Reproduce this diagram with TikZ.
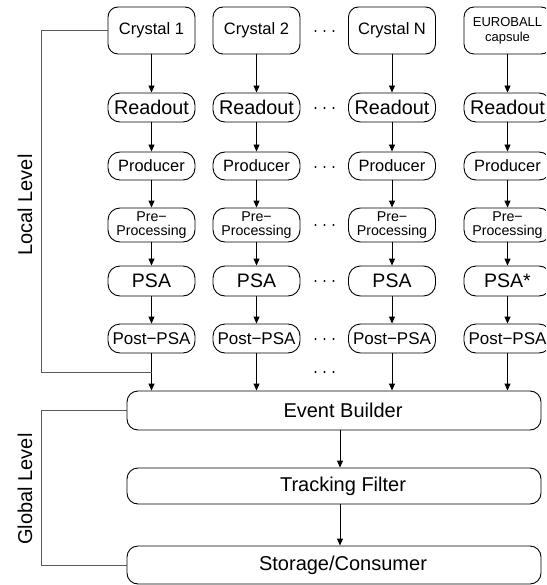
\documentclass[tikz,border=0pt]{standalone}
\usepackage{fontspec}
\setmainfont{Liberation Sans}
\usetikzlibrary{arrows.meta}
\definecolor{bgray}{RGB}{90,90,90}
\begin{document}
\begin{tikzpicture}[x=1pt,y=-1pt,
  box/.style={draw, line width=0.9pt, inner sep=0pt, minimum width=87pt, rounded corners=12pt, align=center},
  crys/.style={box, minimum height=47pt, rounded corners=10pt, font=\fontsize{16.5}{16.5}\selectfont},
  crysE/.style={box, minimum height=47pt, rounded corners=10pt, font=\fontsize{13}{15}\selectfont},
  rdo/.style={box, minimum height=29pt, font=\fontsize{19.8}{19.8}\selectfont},
  prod/.style={box, minimum height=28pt, font=\fontsize{16.4}{16.4}\selectfont},
  prep/.style={box, minimum height=34pt, font=\fontsize{14.2}{14}\selectfont},
  psa/.style={box, minimum height=30pt, font=\fontsize{19.5}{19.5}\selectfont},
  post/.style={box, minimum height=29pt, font=\fontsize{17}{17}\selectfont},
  wide/.style={draw, line width=0.9pt, inner sep=0pt, minimum width=414pt, rounded corners=11pt, font=\fontsize{20}{20}\selectfont},
  arr/.style={line width=0.9pt, -{Triangle[length=7pt,width=6pt]}},
  bracket/.style={line width=1pt, draw=bgray},
  lvl/.style={rotate=90, inner sep=0pt, font=\fontsize{20}{20}\selectfont},
  hdots/.pic={\foreach \dx in {-9,0,9} \fill (\dx,0) circle (1.1pt);}
]
\useasboundingbox (0,0) rectangle (546,585);
\clip (0,0) rectangle (546,585);

% columns
\foreach \n/\x/\ct in {1/151.5/{Crystal 1}, 2/256.5/{Crystal 2}, N/392/{Crystal N}} {
  \node[crys] (cr\n) at (\x,30.5) {\ct};
  \node[rdo]  (ro\n) at (\x,107.5) {Readout};
  \node[prod] (pr\n) at (\x,166) {Producer};
  \node[prep] (pp\n) at (\x,225) {Pre−\\Processing};
  \node[psa]  (ps\n) at (\x,281) {PSA};
  \node[post] (po\n) at (\x,338.5) {Post−PSA};
}
\node[crysE] (crE) at (507.5,30.5) {EUROBALL\\capsule};
\node[rdo]  (roE) at (507.5,107.5) {Readout};
\node[prod] (prE) at (507.5,166) {Producer};
\node[prep] (ppE) at (507.5,225) {Pre−\\Processing};
\node[psa]  (psE) at (507.5,281) {PSA*};
\node[post] (poE) at (507.5,338.5) {Post−PSA};

% global boxes
\node[wide, minimum height=39pt] (eb) at (334,410.5) {\hspace*{18pt}Event Builder};
\node[wide, minimum height=36pt] (tf) at (334,486) {\hspace*{18pt}Tracking Filter};
\node[wide, minimum height=38pt] (sc) at (334,565) {\hspace*{18pt}Storage/Consumer};

% arrows in columns
\foreach \n in {1,2,N,E} {
  \draw[arr] (cr\n) -- (ro\n);
  \draw[arr] (ro\n) -- (pr\n);
  \draw[arr] (pr\n) -- (pp\n);
  \draw[arr] (pp\n) -- (ps\n);
  \draw[arr] (ps\n) -- (po\n);
  \draw[arr] (po\n) -- (po\n |- eb.north);
}
\coordinate (ax) at (340,0);
\draw[arr] (eb.south -| ax) -- (tf.north -| ax);
\draw[arr] (tf.south -| ax) -- (sc.north -| ax);

% dots
\foreach \y in {31,108,167,225,281,339,372} \pic at (324.5,\y) {hdots};

% brackets
\coordinate (lx) at (41,0);
\coordinate (lj) at (151.5,372);
\draw[bracket] (cr1.west) -| (lx |- lj) -- (lj);
\draw[bracket] (eb.west) -| (lx |- sc.west) -- (sc.west);

\node[lvl] (ll) at (25,205) {Local Level};
\node[lvl] (gl) at (25,489) {Global Level};
\end{tikzpicture}
\end{document}
